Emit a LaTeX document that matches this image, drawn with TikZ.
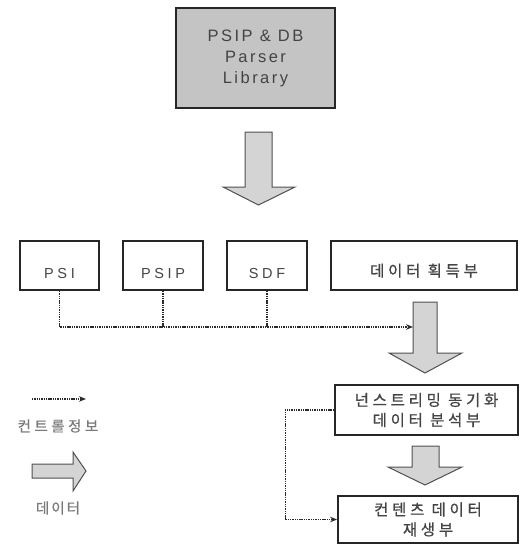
\documentclass[tikz,border=0pt]{standalone}
\usepackage{fontspec}
\setmainfont{Liberation Sans}
\newfontfamily\latA[LetterSpace=15]{Liberation Sans}
\newfontfamily\latB[LetterSpace=25]{Liberation Sans}
\newfontfamily\krA[LetterSpace=24,FakeBold=0.8]{Noto Sans CJK KR}
\newfontfamily\krL[LetterSpace=24,FakeBold=0.6]{Noto Sans CJK KR}
\newfontfamily\krM[LetterSpace=14,FakeBold=0.6]{Noto Sans CJK KR}
\usetikzlibrary{arrows.meta}
\definecolor{boxc}{HTML}{262626}
\definecolor{topfill}{HTML}{C4C4C4}
\definecolor{arrfill}{HTML}{D4D4D4}
\definecolor{arrline}{HTML}{505050}
\definecolor{txt}{HTML}{444444}
\definecolor{legtxt}{HTML}{7A7A7A}
\definecolor{ctlc}{HTML}{2A2A2A}
\tikzset{
  box/.style={draw=boxc, line width=1.8pt, inner sep=0pt, text=txt},
  latbox/.style={font=\latB\fontsize{14.5}{17}\selectfont, text height=26pt, text depth=0pt},
  krbox/.style={font=\krA\fontsize{15.5}{20}\selectfont, align=center},
  bigarrow/.style={fill=arrfill, draw=arrline, line width=1pt, line join=miter},
  ctl/.style={draw=ctlc, line width=1.1pt, dash pattern=on 1.4pt off 0.9pt},
  ctlarrow/.style={ctl, -{Stealth[length=7pt,width=5.5pt]}},
  legtext/.style={font=\krL\fontsize{14.5}{16}\selectfont, text=legtxt, inner sep=0pt}
}
\begin{document}
\begin{tikzpicture}[x=1pt,y=-1pt]
\useasboundingbox (0,0) rectangle (527,546);

% top library box
\node[box, fill=topfill, minimum width=159, minimum height=100, align=center,
      font=\latA\fontsize{16.5}{21}\selectfont] (lib) at (255.5,58) {PSIP \& DB\\Parser\\Library};

% big arrow 1
\draw[bigarrow] (245,132) -- (272,132) -- (272,187) -- (295,187) -- (258.5,205) -- (223,187) -- (245,187) -- cycle;

% row boxes
\node[box, latbox, minimum width=79, minimum height=49] (psi) at (59.5,265.5) {PSI};
\node[box, latbox, minimum width=80, minimum height=49] (psip) at (163,265.5) {PSIP};
\node[box, latbox, minimum width=80, minimum height=49] (sdf) at (267,265.5) {SDF};
\node[box, font=\krA\fontsize{15.5}{20}\selectfont, text height=22pt, text depth=0pt,
      minimum width=186, minimum height=49] (acq) at (424,265.5) {데이터 획득부};

% big arrow 2
\draw[bigarrow] (413,302) -- (437,302) -- (437,353) -- (462,353) -- (425,373) -- (389,353) -- (413,353) -- cycle;
\coordinate (a2w) at (413,327);

% control lines from PSI/PSIP/SDF
\draw[ctlarrow] (psi.south) |- (a2w);
\draw[ctl] (psip.south) -- (psip.south |- a2w);
\draw[ctl] (sdf.south) -- (sdf.south |- a2w);

% analysis box
\node[box, krbox, minimum width=183, minimum height=50] (nsb) at (426.5,410) {넌스트리밍 동기화\\데이터 분석부};

% big arrow 3
\draw[bigarrow] (412,446) -- (439,446) -- (439,467) -- (462,467) -- (425,485) -- (388,467) -- (412,467) -- cycle;

% content box
\node[box, krbox, minimum width=180, minimum height=47] (cnt) at (428,519.5) {컨텐츠 데이터\\재생부};

% control line analysis -> content
\draw[ctlarrow] (nsb.west) -- ++(-49,0) |- (cnt.west);

% legend
\coordinate (l1) at (32,399);
\coordinate (l2) at (86,399);
\draw[ctlarrow] (l1) -- (l2);
\node[legtext] (lg1) at (58,426) {컨트롤정보};
\draw[bigarrow] (32,464) -- (73,464) -- (73,452) -- (86,471) -- (73,491) -- (73,478) -- (32,478) -- cycle;
\node[legtext, font=\krM\fontsize{14.5}{16}\selectfont] (lg2) at (58,508) {데이터};
\end{tikzpicture}
\end{document}
